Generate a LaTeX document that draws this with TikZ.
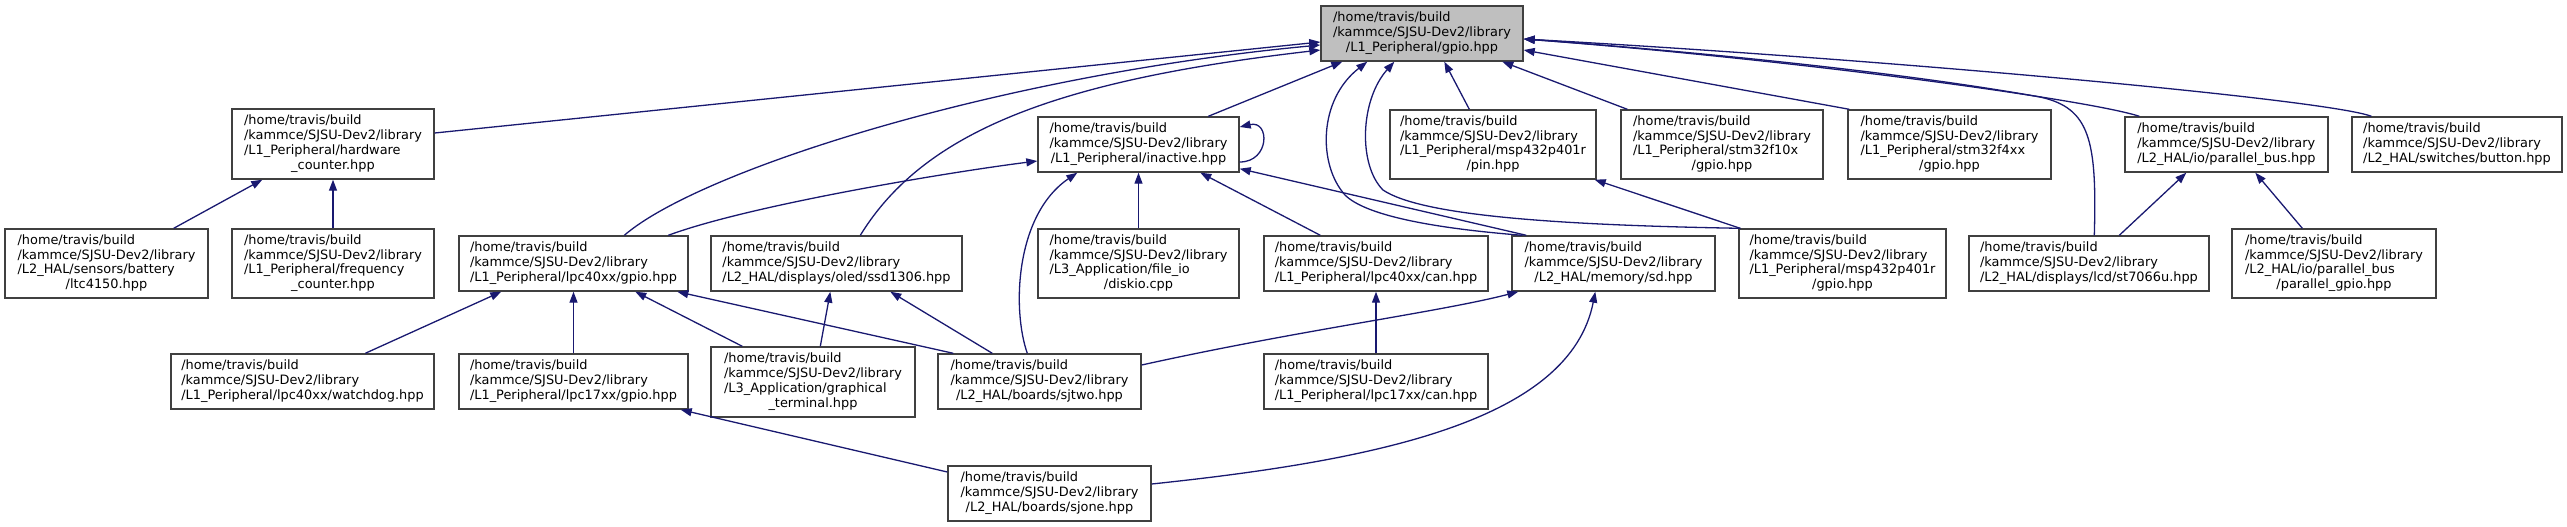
\documentclass[tikz,border=0pt]{standalone}
\usepackage{fontspec}
\setmainfont{DejaVu Sans}
\usetikzlibrary{arrows.meta}
\definecolor{edgeblue}{HTML}{191970}
\definecolor{boxline}{HTML}{404040}
\definecolor{boxgray}{HTML}{BFBFBF}
\newcommand\LL[1]{\multicolumn{1}{@{}l@{}}{#1}}
\newcommand\HB{\LL{/home/travis/build}\\\LL{/kammce/SJSU-Dev2/library}\\}
\newcommand\lbl[1]{\begin{tabular}{@{}c@{}}\HB #1\end{tabular}}
\tikzset{
  nodebox/.style={draw=boxline, line width=1.4pt, fill=white, rectangle, inner sep=0pt,
    font=\fontsize{12.9}{14.8}\selectfont},
  dep/.style={draw=edgeblue, line width=1.3pt, -{Triangle[length=11pt,width=8pt]}},
}
\begin{document}
\begin{tikzpicture}[x=1pt,y=-1pt]
\useasboundingbox (0,0) rectangle (2567,527);
% nodes
\node[nodebox, fill=boxgray, minimum width=202pt, minimum height=55pt] (gpio) at (1422,33.5) {\lbl{/L1\_Peripheral/gpio.hpp}};
\node[nodebox, minimum width=202pt, minimum height=70pt] (hwc) at (333,144) {\lbl{\LL{/L1\_Peripheral/hardware}\\\_counter.hpp}};
\node[nodebox, minimum width=203pt, minimum height=69pt] (ltc) at (106.5,263.5) {\lbl{\LL{/L2\_HAL/sensors/battery}\\/ltc4150.hpp}};
\node[nodebox, minimum width=202pt, minimum height=69pt] (freq) at (333,263.5) {\lbl{\LL{/L1\_Peripheral/frequency}\\\_counter.hpp}};
\node[nodebox, minimum width=229pt, minimum height=55pt] (lpc40g) at (573.5,263.5) {\lbl{/L1\_Peripheral/lpc40xx/gpio.hpp}};
\node[nodebox, minimum width=251pt, minimum height=55pt] (ssd) at (836.5,263.5) {\lbl{/L2\_HAL/displays/oled/ssd1306.hpp}};
\node[nodebox, minimum width=201pt, minimum height=55pt] (inactive) at (1138.5,144.5) {\lbl{/L1\_Peripheral/inactive.hpp}};
\node[nodebox, minimum width=201pt, minimum height=69pt] (diskio) at (1138.5,263.5) {\lbl{\LL{/L3\_Application/file\_io}\\/diskio.cpp}};
\node[nodebox, minimum width=224pt, minimum height=55pt] (lpc40can) at (1376,263.5) {\lbl{/L1\_Peripheral/lpc40xx/can.hpp}};
\node[nodebox, minimum width=203pt, minimum height=55pt] (sd) at (1613.5,263.5) {\lbl{/L2\_HAL/memory/sd.hpp}};
\node[nodebox, minimum width=206pt, minimum height=69pt] (msppin) at (1493,144.5) {\lbl{\LL{/L1\_Peripheral/msp432p401r}\\/pin.hpp}};
\node[nodebox, minimum width=202pt, minimum height=69pt] (stm10) at (1722,144.5) {\lbl{\LL{/L1\_Peripheral/stm32f10x}\\/gpio.hpp}};
\node[nodebox, minimum width=203pt, minimum height=69pt] (stm4) at (1949.5,144.5) {\lbl{\LL{/L1\_Peripheral/stm32f4xx}\\/gpio.hpp}};
\node[nodebox, minimum width=203pt, minimum height=55pt] (pbus) at (2226.5,144.5) {\lbl{/L2\_HAL/io/parallel\_bus.hpp}};
\node[nodebox, minimum width=210pt, minimum height=55pt] (button) at (2457,144.5) {\lbl{/L2\_HAL/switches/button.hpp}};
\node[nodebox, minimum width=207pt, minimum height=69pt] (mspgpio) at (1842.5,263.5) {\lbl{\LL{/L1\_Peripheral/msp432p401r}\\/gpio.hpp}};
\node[nodebox, minimum width=240pt, minimum height=55pt] (st7066) at (2089,263.5) {\lbl{/L2\_HAL/displays/lcd/st7066u.hpp}};
\node[nodebox, minimum width=204pt, minimum height=69pt] (pgpio) at (2334,263.5) {\lbl{\LL{/L2\_HAL/io/parallel\_bus}\\/parallel\_gpio.hpp}};
\node[nodebox, minimum width=263pt, minimum height=55pt] (watchdog) at (302.5,381.5) {\lbl{/L1\_Peripheral/lpc40xx/watchdog.hpp}};
\node[nodebox, minimum width=229pt, minimum height=55pt] (lpc17g) at (573.5,381.5) {\lbl{/L1\_Peripheral/lpc17xx/gpio.hpp}};
\node[nodebox, minimum width=204pt, minimum height=70pt] (graph) at (813,382) {\lbl{\LL{/L3\_Application/graphical}\\\_terminal.hpp}};
\node[nodebox, minimum width=203pt, minimum height=55pt] (sjtwo) at (1039.5,381.5) {\lbl{/L2\_HAL/boards/sjtwo.hpp}};
\node[nodebox, minimum width=224pt, minimum height=55pt] (lpc17can) at (1376,381.5) {\lbl{/L1\_Peripheral/lpc17xx/can.hpp}};
\node[nodebox, minimum width=203pt, minimum height=55pt] (sjone) at (1049.5,493.5) {\lbl{/L2\_HAL/boards/sjone.hpp}};
% edges
\draw[dep] ([yshift=11pt]hwc.east) -- ([yshift=-8.5pt]gpio.west);
\draw[dep] ([xshift=-35pt]ltc.north east) -- ([xshift=31pt]hwc.south west);
\draw[dep] (freq.north) -- (hwc.south);
\draw[dep] ([xshift=166pt]lpc40g.north west) .. controls (700,170) and (1000,75) .. ([yshift=-11.5pt]gpio.west);
\draw[dep] ([xshift=150pt]ssd.north west) .. controls (925,130) and (1060,80) .. ([yshift=-16.5pt]gpio.west);
\draw[dep] ([xshift=171pt]inactive.north west) -- ([xshift=22pt]gpio.south west);
\draw[dep] ([yshift=-17.5pt]inactive.east) .. controls (1270,162) and (1270,120) .. ([yshift=17.5pt]inactive.east);
\draw[dep] ([xshift=210pt]lpc40g.north west) .. controls (750,205) and (950,172) .. ([yshift=-16.5pt]inactive.west);
\draw[dep] (diskio.north) -- (inactive.south);
\draw[dep] ([xshift=57pt]lpc40can.north west) -- ([xshift=163pt]inactive.south west);
\draw[dep] ([xshift=15pt]sd.north west) -- ([yshift=4pt]inactive.south east);
\draw[dep] ([xshift=90pt]sjtwo.north west) .. controls (1012,310) and (1015,215) .. ([xshift=40pt]inactive.south west);
\draw[dep] ([xshift=80pt]msppin.north west) -- ([xshift=124pt]gpio.south west);
\draw[dep] ([xshift=7pt]stm10.north west) -- ([xshift=182pt]gpio.south west);
\draw[dep] ([xshift=2pt]stm4.north west) -- ([yshift=-16.5pt]gpio.east);
\draw[dep] ([xshift=15pt]pbus.north west) .. controls (2090,100) and (1800,60) .. ([yshift=-5.5pt]gpio.east);
\draw[dep] ([xshift=20pt]button.north west) .. controls (2330,100) and (1900,60) .. ([yshift=-5.5pt]gpio.east);
\draw[dep] ([xshift=126pt]st7066.north west) .. controls (2097,140) and (2090,108) .. (2040,97) .. controls (1900,72) and (1700,52) .. ([yshift=-5.5pt]gpio.east);
\draw[dep] ([xshift=151pt]st7066.north west) -- ([xshift=62pt]pbus.south west);
\draw[dep] ([xshift=71pt]pgpio.north west) -- ([xshift=131pt]pbus.south west);
\draw[dep] ([xshift=2pt]mspgpio.north west) -- ([xshift=-2pt]msppin.south east);
\draw[dep] ([xshift=2pt]mspgpio.north west) .. controls (1550,225) and (1420,215) .. (1383,190) .. controls (1358,165) and (1360,100) .. ([xshift=74pt]gpio.south west);
\draw[dep] ([xshift=11pt]sd.north west) .. controls (1430,228) and (1365,215) .. (1345,195) .. controls (1318,165) and (1318,100) .. ([xshift=47pt]gpio.south west);
\draw[dep] ([xshift=195pt]watchdog.north west) -- ([xshift=43pt]lpc40g.south west);
\draw[dep] (lpc17g.north) -- (lpc40g.south);
\draw[dep] ([xshift=32pt]graph.north west) -- ([xshift=177pt]lpc40g.south west);
\draw[dep] ([xshift=16pt]sjtwo.north west) -- ([xshift=219pt]lpc40g.south west);
\draw[dep] ([xshift=110pt]graph.north west) -- ([xshift=120pt]ssd.south west);
\draw[dep] ([xshift=55pt]sjtwo.north west) -- ([xshift=180pt]ssd.south west);
\draw[dep] ([yshift=16.5pt]sjtwo.east) .. controls (1300,330) and (1440,312) .. ([xshift=7pt]sd.south west);
\draw[dep] (lpc17can.north) -- (lpc40can.south);
\draw[dep] ([yshift=21.5pt]sjone.west) -- ([xshift=-8pt]lpc17g.south east);
\draw[dep] ([yshift=9.5pt]sjone.east) .. controls (1380,460) and (1570,420) .. ([xshift=84pt]sd.south west);
\end{tikzpicture}
\end{document}
